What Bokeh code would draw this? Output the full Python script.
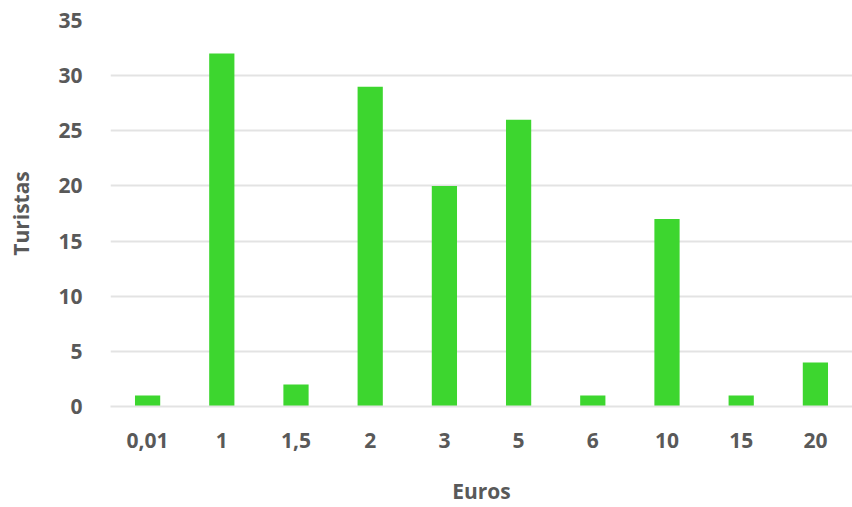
from bokeh.plotting import figure
from bokeh.models import ColumnDataSource, Range1d, FactorRange
from bokeh.embed import file_html
from bokeh.resources import INLINE

# Importe en euros y número de turistas
euros = ["0,01", "1", "1,5", "2", "3", "5", "6", "10", "15", "20"]
turistas = [1, 32, 2, 29, 20, 26, 1, 17, 1, 4]

source = ColumnDataSource(data=dict(euros=euros, turistas=turistas))

p = figure(
    x_range=FactorRange(*euros, range_padding=0),
    y_range=Range1d(0, 35),
    width=852, height=507,
    output_backend="svg",
    toolbar_location=None,
    min_border_left=110, min_border_right=0,
    min_border_top=20, min_border_bottom=101,
)

p.vbar(x="euros", top="turistas", width=0.34, source=source,
       fill_color="#3DD62F", line_color=None)

FONT = "Open Sans"
TEXT = "#595959"

p.outline_line_color = None
p.background_fill_color = "white"
p.border_fill_color = "white"

p.xgrid.grid_line_color = None
p.ygrid.grid_line_color = "#e3e3e3"
p.ygrid.grid_line_width = 2

p.yaxis.ticker = [0, 5, 10, 15, 20, 25, 30, 35]
p.yaxis.axis_line_color = None
p.yaxis.major_tick_line_color = None
p.yaxis.minor_tick_line_color = None
p.yaxis.major_label_standoff = 22
p.yaxis.axis_label = "Turistas"
p.yaxis.axis_label_standoff = 20

p.xaxis.axis_line_color = "#e3e3e3"
p.xaxis.axis_line_width = 2
p.xaxis.major_tick_line_color = None
p.xaxis.minor_tick_line_color = None
p.xaxis.major_label_standoff = 20
p.xaxis.axis_label = "Euros"
p.xaxis.axis_label_standoff = 26

for ax in (p.xaxis[0], p.yaxis[0]):
    ax.major_label_text_font = FONT
    ax.major_label_text_font_style = "bold"
    ax.major_label_text_font_size = "21px"
    ax.major_label_text_color = TEXT
    ax.axis_label_text_font = FONT
    ax.axis_label_text_font_style = "bold"
    ax.axis_label_text_font_size = "21px"
    ax.axis_label_text_color = TEXT

open("out.html", "w").write(file_html(p, INLINE))
